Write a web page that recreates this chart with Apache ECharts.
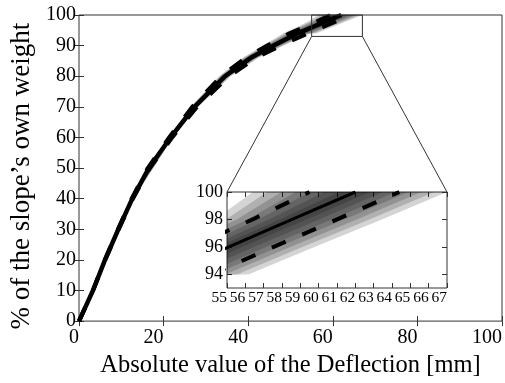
<!DOCTYPE html>
<html>
<head>
<meta charset="utf-8">
<script src="https://cdn.jsdelivr.net/npm/echarts@6/dist/echarts.min.js"></script>
<style>
  html, body { margin: 0; padding: 0; background: #fff; }
  #chart-container { width: 505px; height: 383px; }
</style>
</head>
<body>
<div id="chart-container"></div>
<script>
// load levels (% of own weight) and deflections (mm)
const meanLoad  = [0, 10, 20, 30, 40, 50, 60, 70, 80, 86, 90, 94, 96, 98, 100];
const meanDefl  = [0, 3.3, 6.15, 9.3, 12.6, 16.5, 21.65, 27.3, 34.5, 40.6, 46.0, 51.7, 55.1, 58.55, 62.0];
const upperDefl = [0, 3.27, 6.1, 9.2, 12.45, 16.25, 21.3, 26.75, 33.6, 39.4, 44.5, 49.8, 53.1, 56.4, 59.5];
const lowerDefl = [0, 3.33, 6.2, 9.4, 12.75, 16.75, 22.05, 27.9, 35.5, 41.9, 47.7, 54.15, 57.55, 61.0, 64.4];

// grey envelope of the simulations
const bandLoad  = [20, 40, 60, 70, 80, 86, 90, 93.9, 94, 96, 98, 100];
const bandMid   = [6.15, 12.6, 21.65, 27.3, 34.5, 40.6, 46.0, 51.55, 51.7, 55.1, 58.55, 62.0];
const bandLeft  = [6.0, 12.3, 21.05, 26.4, 33.1, 38.7, 43.5, 48.15, 48.2, 51.4, 54.35, 56.4];
const bandRight = [6.3, 12.9, 22.25, 28.2, 35.9, 42.5, 48.5, 54.55, 56.2, 59.8, 63.45, 67.0];

// axes
const mainXTicks  = [0, 20, 40, 60, 80, 100];
const mainYTicks  = [0, 10, 20, 30, 40, 50, 60, 70, 80, 90, 100];
const insetXTicks = [55, 56, 57, 58, 59, 60, 61, 62, 63, 64, 65, 66, 67];
const insetYTicks = [94, 96, 98, 100];
const zoomX = [55, 67];
const zoomY = [93, 100];

// shading steps of the envelope (outer to inner)
const shadeSteps = [1, 0.86, 0.72, 0.58, 0.44, 0.3, 0.16];

const FONT = 'Liberation Serif';
const chart = echarts.init(document.getElementById('chart-container'));

function pairs(xs, ys) {
  return xs.map((x, i) => [x, ys[i]]);
}

function bandItem(params, api) {
  const f = shadeSteps[params.dataIndex];
  const pts = [];
  for (let i = 0; i < bandLoad.length; i++) {
    pts.push(api.coord([bandMid[i] + f * (bandLeft[i] - bandMid[i]), bandLoad[i]]));
  }
  for (let i = bandLoad.length - 1; i >= 0; i--) {
    pts.push(api.coord([bandMid[i] + f * (bandRight[i] - bandMid[i]), bandLoad[i]]));
  }
  const cs = params.coordSys;
  return {
    type: 'polygon',
    shape: { points: pts },
    style: { fill: 'rgba(0,0,0,0.17)' },
    clipPath: { type: 'rect', shape: { x: cs.x, y: cs.y, width: cs.width, height: cs.height } }
  };
}

function boxItem(params, api) {
  const a = api.coord([zoomX[0], zoomY[1]]);
  const b = api.coord([zoomX[1], zoomY[0]]);
  return {
    type: 'rect',
    shape: { x: a[0], y: a[1], width: b[0] - a[0], height: b[1] - a[1] },
    style: { fill: 'none', stroke: '#333', lineWidth: 1 }
  };
}

function valueAxis(grid, pos, min, max, ticks, label, extra) {
  return Object.assign({
    type: 'value', gridIndex: grid, position: pos, min: min, max: max, interval: 1,
    splitLine: { show: false },
    axisLine: { show: false },
    axisTick: { show: true, inside: true, length: 5, customValues: ticks, lineStyle: { color: '#333' } },
    axisLabel: label ? Object.assign({ customValues: ticks, color: '#000', fontFamily: FONT }, label) : { show: false }
  }, extra || {});
}

const lineSeries = (xs, axis, dashed, w) => ({
  type: 'line',
  xAxisIndex: axis, yAxisIndex: axis,
  data: pairs(xs, meanLoad),
  symbol: 'none',
  z: 5,
  lineStyle: dashed
    ? { color: '#000', width: 4, type: [15, 18], cap: 'butt' }
    : { color: '#000', width: w }
});

const bandSeries = axis => ({
  type: 'custom',
  xAxisIndex: axis, yAxisIndex: axis,
  renderItem: bandItem,
  data: shadeSteps.map(() => [bandMid[0], bandLoad[0]]),
  z: 2,
  silent: true
});

const option = {
  animation: false,
  grid: [
    { left: 79, right: 3, top: 15, bottom: 50, show: true, borderColor: '#333', borderWidth: 1 },
    { left: 227, top: 192, width: 220, height: 96, show: true, borderColor: '#333', borderWidth: 1, backgroundColor: '#fff' }
  ],
  xAxis: [
    valueAxis(0, 'bottom', 0, 100, mainXTicks, { fontSize: 20, margin: 7, align: 'right' }, {
      name: 'Absolute value of the Deflection [mm]', nameLocation: 'middle', nameGap: 21,
      nameTextStyle: { fontSize: 24.5, fontFamily: FONT, color: '#000' }
    }),
    valueAxis(1, 'bottom', zoomX[0], zoomX[1], insetXTicks, { fontSize: 15.5, margin: 2, align: 'right' }),
    valueAxis(0, 'top', 0, 100, mainXTicks, null),
    valueAxis(1, 'top', zoomX[0], zoomX[1], insetXTicks, null)
  ],
  yAxis: [
    valueAxis(0, 'left', 0, 100, mainYTicks, { fontSize: 20, margin: 3, verticalAlign: 'middle', padding: [0, 0, 8, 0] }, {
      name: '% of the slope\u2019s own weight', nameLocation: 'middle', nameGap: 43,
      nameTextStyle: { fontSize: 27, fontFamily: FONT, color: '#000', padding: [0, 16, 0, 0] }
    }),
    valueAxis(1, 'left', zoomY[0], zoomY[1], insetYTicks, { fontSize: 18, margin: 4 }),
    valueAxis(0, 'right', 0, 100, mainYTicks, null),
    valueAxis(1, 'right', zoomY[0], zoomY[1], insetYTicks, null)
  ],
  series: [
    bandSeries(0),
    lineSeries(meanDefl, 0, false, 4.5),
    lineSeries(upperDefl, 0, true),
    lineSeries(lowerDefl, 0, true),
    {
      type: 'custom', xAxisIndex: 0, yAxisIndex: 0,
      renderItem: boxItem, data: [[zoomX[0], zoomY[0]]], z: 6, silent: true
    },
    bandSeries(1),
    lineSeries(meanDefl, 1, false, 3),
    lineSeries(upperDefl, 1, true),
    lineSeries(lowerDefl, 1, true)
  ]
};

chart.setOption(option);

// connector lines from the zoom box to the inset corners
const p1 = chart.convertToPixel({ gridIndex: 0 }, [zoomX[0], zoomY[0]]);
const p2 = chart.convertToPixel({ gridIndex: 0 }, [zoomX[1], zoomY[0]]);
const q1 = chart.convertToPixel({ gridIndex: 1 }, [zoomX[0], zoomY[1]]);
const q2 = chart.convertToPixel({ gridIndex: 1 }, [zoomX[1], zoomY[1]]);
chart.setOption({
  graphic: [
    { type: 'line', shape: { x1: p1[0], y1: p1[1], x2: q1[0], y2: q1[1] }, style: { stroke: '#333', lineWidth: 1 }, z: 10 },
    { type: 'line', shape: { x1: p2[0], y1: p2[1], x2: q2[0], y2: q2[1] }, style: { stroke: '#333', lineWidth: 1 }, z: 10 }
  ]
});
</script>
</body>
</html>
